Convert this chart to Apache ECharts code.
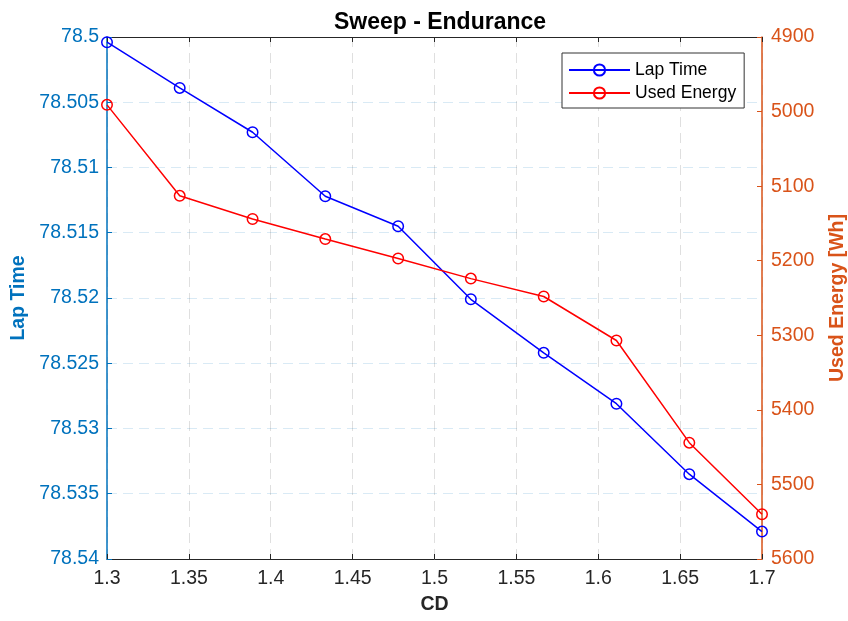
<!DOCTYPE html>
<html><head><meta charset="utf-8">
<script src="https://cdn.jsdelivr.net/npm/echarts@6/dist/echarts.min.js"></script>
<style>html,body{margin:0;padding:0;background:#fff}#c{width:848px;height:621px}</style>
</head><body><div id="c"></div>
<script>
const cdValues = [1.3, 1.3444, 1.3889, 1.4333, 1.4778, 1.5222, 1.5667, 1.6111, 1.6556, 1.7];
const lapTime = [78.5004, 78.5039, 78.5073, 78.5122, 78.5145, 78.5201, 78.5242, 78.5281, 78.5335, 78.5379];
const usedEnergy = [4991, 5113, 5144, 5171, 5197, 5224, 5248, 5307, 5444, 5540];
const seriesNames = ['Lap Time', 'Used Energy'];

const FONT = 'Liberation Sans, Arial, sans-serif';
const LEFT_C = '#0072BD', RIGHT_C = '#D95319', AX_C = '#262626';
const chart = echarts.init(document.getElementById('c'), null, {renderer: 'canvas'});
const zipData = (ys) => cdValues.map((x, i) => [x, ys[i]]);
chart.setOption({
  animation: false,
  backgroundColor: '#fff',
  title: {text: 'Sweep - Endurance', left: 435, top: 6, textAlign: 'center',
    textStyle: {fontFamily: FONT, fontSize: 23, fontWeight: 'bold', color: '#000'}},
  grid: {left: 107, right: 86, top: 37, bottom: 62, show: false, containLabel: false, outerBoundsMode: 'none'},
  legend: {
    orient: 'vertical', left: 562, top: 53, itemWidth: 61, itemHeight: 14, itemGap: 5,
    padding: [8, 8, 6, 6], borderColor: '#333', borderWidth: 1, backgroundColor: '#fff',
    textStyle: {fontFamily: FONT, fontSize: 17.5, color: '#000'},
    data: seriesNames
  },
  xAxis: [{
    type: 'value', min: 1.3, max: 1.7, interval: 0.05,
    name: 'CD', nameLocation: 'middle', nameGap: 36,
    nameTextStyle: {fontFamily: FONT, fontSize: 19.5, fontWeight: 'bold', color: AX_C},
    axisLine: {lineStyle: {color: AX_C, width: 1}},
    axisTick: {inside: true, length: 5, lineStyle: {color: AX_C}},
    axisLabel: {fontFamily: FONT, fontSize: 19.5, color: AX_C, margin: 10,
      formatter: v => String(+v.toFixed(2))},
    splitLine: {show: true, lineStyle: {color: 'rgba(38,38,38,0.15)', type: [10, 6]}}
  }, {
    type: 'value', position: 'top', min: 1.3, max: 1.7, interval: 0.05,
    axisLine: {show: true, lineStyle: {color: AX_C, width: 1}},
    axisTick: {show: true, inside: true, length: 5, lineStyle: {color: AX_C}},
    axisLabel: {show: false}, splitLine: {show: false}
  }],
  yAxis: [{
    type: 'value', inverse: true, min: 78.5, max: 78.54, interval: 0.005,
    name: 'Lap Time', nameLocation: 'middle', nameGap: 78, nameRotate: 90,
    nameTextStyle: {fontFamily: FONT, fontSize: 19.5, fontWeight: 'bold', color: LEFT_C},
    axisLine: {show: true, lineStyle: {color: LEFT_C, width: 1.5}},
    axisTick: {show: true, inside: true, length: 5, lineStyle: {color: LEFT_C}},
    axisLabel: {fontFamily: FONT, fontSize: 19.5, color: LEFT_C, margin: 8,
      formatter: v => String(+v.toFixed(3))},
    splitLine: {show: true, lineStyle: {color: 'rgba(0,114,189,0.15)', type: [10, 6]}}
  }, {
    type: 'value', inverse: true, min: 4900, max: 5600, interval: 100,
    name: 'Used Energy [Wh]', nameLocation: 'middle', nameGap: 66, nameRotate: 90,
    nameTextStyle: {fontFamily: FONT, fontSize: 19.5, fontWeight: 'bold', color: RIGHT_C},
    axisLine: {show: true, lineStyle: {color: RIGHT_C, width: 1.5}},
    axisTick: {show: true, inside: true, length: 5, lineStyle: {color: RIGHT_C}},
    axisLabel: {fontFamily: FONT, fontSize: 19.5, color: RIGHT_C, margin: 9,
      formatter: v => String(v)},
    splitLine: {show: false}
  }],
  series: [{
    name: seriesNames[0], type: 'line', xAxisIndex: 0, yAxisIndex: 0,
    data: zipData(lapTime), symbol: 'circle', symbolSize: 10.5,
    lineStyle: {color: '#0000FF', width: 1.5},
    itemStyle: {color: 'rgba(0,0,0,0)', borderColor: '#0000FF', borderWidth: 1.5}
  }, {
    name: seriesNames[1], type: 'line', xAxisIndex: 0, yAxisIndex: 1,
    data: zipData(usedEnergy), symbol: 'circle', symbolSize: 10.5,
    lineStyle: {color: '#FF0000', width: 1.5},
    itemStyle: {color: 'rgba(0,0,0,0)', borderColor: '#FF0000', borderWidth: 1.5}
  }]
});
</script></body></html>
